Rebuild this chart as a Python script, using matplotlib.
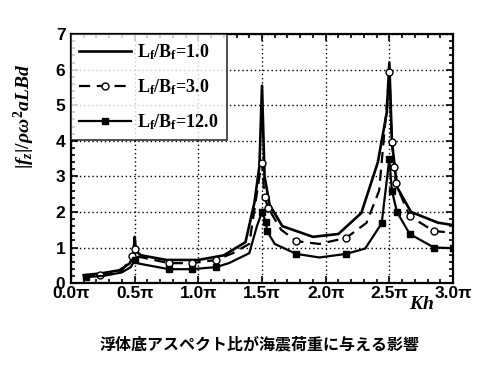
import numpy as np
import matplotlib
matplotlib.use('Agg')
import matplotlib.pyplot as plt
from matplotlib.ticker import MultipleLocator, FuncFormatter

# Kh / pi values and response for each aspect ratio
x_10 = [0.1, 0.25, 0.38, 0.46, 0.49, 0.5, 0.51, 0.55, 0.75, 1.0, 1.2, 1.37, 1.44, 1.48,
        1.5, 1.52, 1.56, 1.66, 1.9, 2.1, 2.28, 2.41, 2.48, 2.5, 2.52, 2.56, 2.67, 2.88, 3.0]
y_10 = [0.22, 0.28, 0.36, 0.55, 0.75, 1.3, 0.9, 0.78, 0.65, 0.65, 0.78, 1.15, 2.25, 3.3,
        5.55, 3.0, 2.2, 1.6, 1.3, 1.38, 1.97, 3.4, 4.8, 6.2, 4.0, 2.7, 2.0, 1.7, 1.63]

x_30 = [0.1, 0.23, 0.4, 0.48, 0.5, 0.52, 0.77, 0.95, 1.14, 1.27, 1.4, 1.48, 1.5, 1.52,
        1.55, 1.65, 1.77, 1.95, 2.16, 2.32, 2.42, 2.48, 2.5, 2.52, 2.54, 2.55, 2.66, 2.85, 3.0]
y_30 = [0.18, 0.22, 0.35, 0.75, 0.95, 0.75, 0.56, 0.56, 0.65, 0.84, 1.1, 3.0, 3.37, 2.42,
        2.1, 1.5, 1.18, 1.1, 1.27, 1.69, 2.6, 5.0, 5.93, 3.96, 3.26, 2.8, 1.88, 1.46, 1.42]

x_120 = [0.12, 0.25, 0.4, 0.47, 0.5, 0.53, 0.77, 0.95, 1.14, 1.24, 1.4, 1.46, 1.5, 1.53,
         1.54, 1.6, 1.77, 1.95, 2.16, 2.31, 2.44, 2.5, 2.52, 2.56, 2.66, 2.85, 3.0]
y_120 = [0.17, 0.2, 0.3, 0.45, 0.65, 0.55, 0.39, 0.39, 0.45, 0.56, 0.84, 1.6, 2.0, 1.71,
         1.46, 1.1, 0.82, 0.72, 0.82, 0.97, 1.68, 3.5, 2.6, 2.0, 1.38, 1.0, 0.98]

labels = [r'L$_\mathbf{f}$/B$_\mathbf{f}$=1.0',
          r'L$_\mathbf{f}$/B$_\mathbf{f}$=3.0',
          r'L$_\mathbf{f}$/B$_\mathbf{f}$=12.0']
caption = '浮体底アスペクト比が海震荷重に与える影響'

plt.rcParams['mathtext.fontset'] = 'custom'
plt.rcParams['mathtext.bf'] = 'Liberation Serif:bold'
plt.rcParams['mathtext.it'] = 'Liberation Serif:bold:italic'
plt.rcParams['mathtext.rm'] = 'Liberation Serif:bold'

fig = plt.figure(figsize=(5, 3.71), dpi=100)
ax = fig.add_axes([0.142, 0.237, 0.764, 0.671])

# markers only on some of the points, as in the original
marks_30 = [1, 3, 4, 6, 7, 8, 12, 13, 14, 16, 18, 22, 23, 24, 25, 26, 27]
marks_120 = [0, 4, 6, 7, 8, 12, 13, 14, 16, 18, 20, 21, 22, 23, 24, 25, 26]

ax.plot(x_10, y_10, '-', color='black', lw=1.9, label=labels[0])
ax.plot(x_30, y_30, '--', color='black', lw=1.6, dashes=(5, 3),
        marker='o', ms=5, mfc='white', mec='black', mew=1, markevery=marks_30,
        label=labels[1])
ax.plot(x_120, y_120, '-', color='black', lw=1.6,
        marker='s', ms=4.5, mfc='black', mec='black', markevery=marks_120,
        label=labels[2])

ax.set_xlim(0, 3)
ax.set_ylim(0, 7)
ax.xaxis.set_major_locator(MultipleLocator(0.5))
ax.xaxis.set_minor_locator(MultipleLocator(0.1))
ax.yaxis.set_major_locator(MultipleLocator(1))
ax.yaxis.set_minor_locator(MultipleLocator(0.2))
ax.xaxis.set_major_formatter(FuncFormatter(lambda v, p: f'{v:.1f}\u03c0'))
ax.yaxis.set_major_formatter(FuncFormatter(lambda v, p: f'{v:.0f}'))

ax.tick_params(which='both', direction='in', top=True, right=True, width=1.2)
ax.tick_params(which='major', length=5, labelsize=12.5, pad=2)
ax.tick_params(axis='y', which='major', pad=4)
ax.tick_params(which='minor', length=3)
for lab in ax.get_xticklabels() + ax.get_yticklabels():
    lab.set_fontweight('bold')
    lab.set_family('Liberation Sans')

ax.grid(True, which='major', linestyle=(0, (1, 2)), color='black', lw=1)
for s in ax.spines.values():
    s.set_linewidth(1.6)

ax.set_ylabel(r'$|f_z|/\rho\omega^2 aLBd$', fontsize=14, labelpad=2)
ax.yaxis.set_label_coords(-0.09, 0.67)
ax.text(2.75, -0.58, r'$Kh$', fontsize=14, ha='center', va='center')

leg = ax.legend(loc='upper left', frameon=True, fancybox=False, edgecolor='black',
                borderaxespad=0, handlelength=2.9, fontsize=13, labelspacing=0.85,
                borderpad=0.45, handletextpad=0.3)
leg.get_frame().set_linewidth(1.2)
for t in leg.get_texts():
    t.set_fontweight('bold')
    t.set_family('Liberation Serif')

fig.text(0.52, 0.07, caption, ha='center', va='center', fontsize=11.5,
         family=['Noto Sans CJK JP', 'DejaVu Sans'], fontweight='bold')

fig.savefig('out.png', dpi=100, facecolor='white')
